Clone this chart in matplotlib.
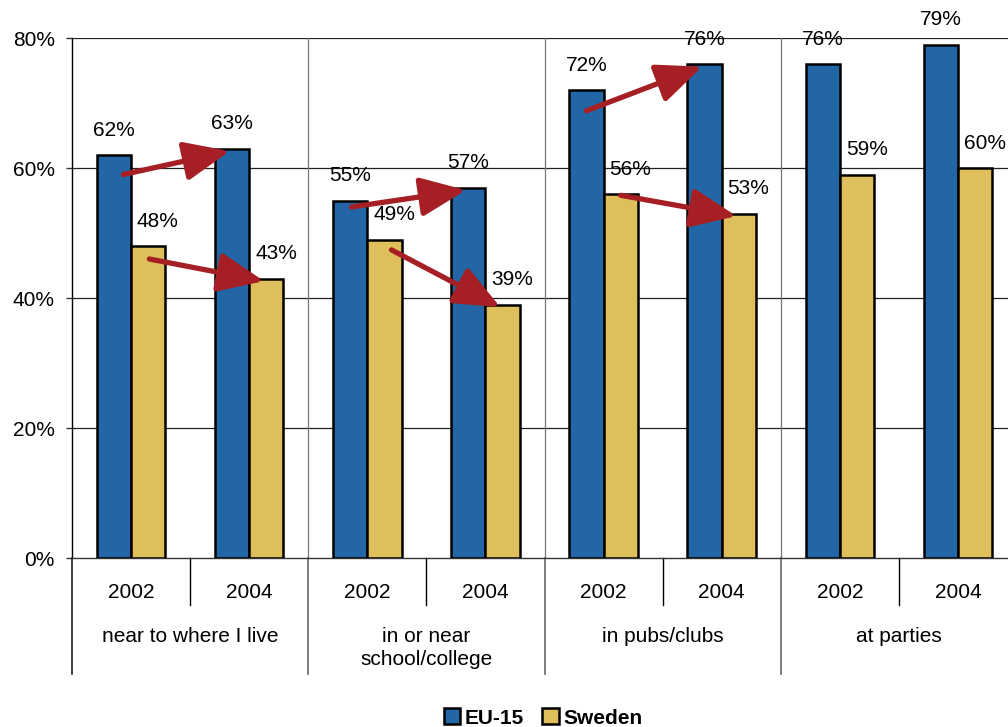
import matplotlib
matplotlib.use("Agg")
import matplotlib.pyplot as plt
from matplotlib.patches import Patch
from matplotlib.ticker import FuncFormatter

plt.rcParams['font.family'] = ['Liberation Sans', 'DejaVu Sans']

# ---- data ----
groups = ["near to where I live", "in or near\nschool/college", "in pubs/clubs", "at parties"]
years = ["2002", "2004"]
eu15 = [62, 63, 55, 57, 72, 76, 76, 79]
sweden = [48, 43, 49, 39, 56, 53, 59, 60]
series_names = ["EU-15", "Sweden"]
y_ticks = [0, 20, 40, 60, 80]
# arrows: (series, group index) for the first three groups
arrow_specs = [("EU-15", 0), ("Sweden", 0), ("EU-15", 1), ("Sweden", 1), ("EU-15", 2), ("Sweden", 2)]

# ---- style ----
blue = "#2266A5"
yellow = "#DFBF5B"
red = "#A61F24"
bar_w = 0.29
tail_off = [(0.08, -3.0), (0.01, -2.0), (0.01, -1.0), (0.06, -1.6), (0.0, -3.2), (0.0, -0.2)]

fig = plt.figure(figsize=(10.08, 7.27), dpi=100)
ax = fig.add_axes([72/1008, (727-558)/727, 945/1008, 520/727])

n = len(eu15)
xs = list(range(n))
x_eu = [x - bar_w/2 for x in xs]
x_sw = [x + bar_w/2 for x in xs]

ax.bar(x_eu, eu15, width=bar_w, color=blue, edgecolor="black", linewidth=1.8, zorder=3)
ax.bar(x_sw, sweden, width=bar_w, color=yellow, edgecolor="black", linewidth=1.8, zorder=3)

for x, v in zip(x_eu, eu15):
    ax.annotate(f"{v}%", (x, v), xytext=(0, 11), textcoords="offset points",
                ha="center", va="bottom", fontsize=15, zorder=5)
for x, v in zip(x_sw, sweden):
    ax.annotate(f"{v}%", (x, v), xytext=(7, 11), textcoords="offset points",
                ha="center", va="bottom", fontsize=15, zorder=5)

ax.set_xlim(-0.5, n - 0.5)
ax.set_ylim(0, 80)
ax.set_yticks(y_ticks)
ax.yaxis.set_major_formatter(FuncFormatter(lambda v, p: f"{int(v)}%"))
ax.tick_params(axis="y", length=4.5, width=1, pad=8, labelsize=15, color="#333333")
ax.set_xticks([])

for s in ["top", "right"]:
    ax.spines[s].set_visible(False)
ax.spines["left"].set_linewidth(1.0)
ax.spines["bottom"].set_linewidth(1.0)
ax.spines["bottom"].set_color("#333333")

for t in y_ticks[1:]:
    ax.axhline(t, color="#222222", lw=0.9, zorder=1)
for b in [1.5, 3.5, 5.5]:
    ax.axvline(b, color="#777777", lw=0.9, zorder=1)

xt = ax.get_xaxis_transform()
# year separators
for b in [0.5, 2.5, 4.5, 6.5]:
    ax.plot([b, b], [0, -0.0904], transform=xt, color="black", lw=1.0, clip_on=False)
# group separators
for b in [-0.5, 1.5, 3.5, 5.5, 7.5]:
    ax.plot([b, b], [0, -0.223], transform=xt, color="#222222" if b == -0.5 else "#666666",
            lw=1.2, clip_on=False)

for i, x in enumerate(xs):
    ax.text(x, -0.0665, years[i % 2], transform=xt, ha="center", va="center", fontsize=15)
for g, name in enumerate(groups):
    ax.text(2*g + 0.5, -0.132, name, transform=xt, ha="center", va="top", fontsize=15,
            linespacing=1.32)

# arrows
for (series, g), (dx, dy) in zip(arrow_specs, tail_off):
    vals = eu15 if series == "EU-15" else sweden
    xpos = x_eu if series == "EU-15" else x_sw
    i0, i1 = 2*g, 2*g + 1
    ax.annotate("", xy=(xpos[i1] - 0.02, vals[i1] - 0.4), xytext=(xpos[i0] + dx, vals[i0] + dy),
                arrowprops=dict(arrowstyle="-|>,head_length=1.4,head_width=0.6",
                                color=red, lw=3.8, shrinkA=0, shrinkB=0, mutation_scale=20),
                zorder=6)

handles = [Patch(facecolor=blue, edgecolor="black", linewidth=1.8),
           Patch(facecolor=yellow, edgecolor="black", linewidth=1.8)]
fig.legend(handles, series_names, loc="center", bbox_to_anchor=(543/1008, 1 - 718/727),
           ncol=2, frameon=False, prop={"weight": "bold", "size": 15},
           handlelength=0.8, handleheight=0.8, handletextpad=0.2, columnspacing=0.9)

fig.savefig("out.png", dpi=100)
